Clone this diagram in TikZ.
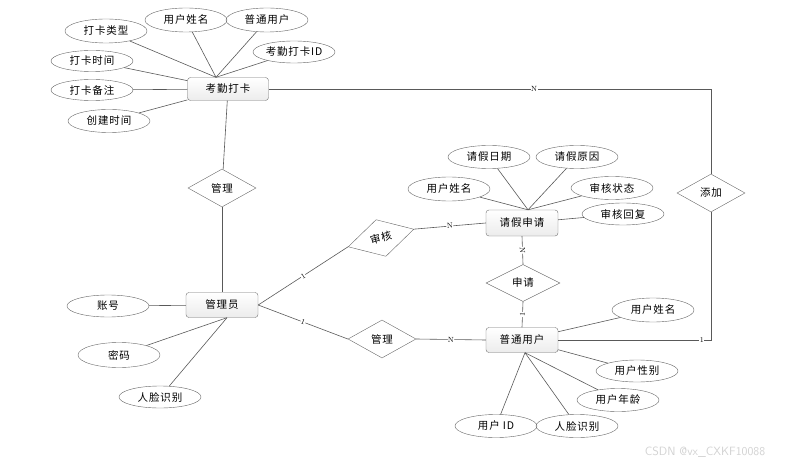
\documentclass[tikz,border=0pt]{standalone}
\usepackage{fontspec}
\newfontfamily\cjk[LetterSpace=8]{Noto Sans CJK SC}
\usetikzlibrary{shapes.geometric}

\begin{document}
\begin{tikzpicture}[x=1pt,y=-1pt,
  entity/.style={draw=gray!90!black,rounded corners=3pt,top color=white,bottom color=gray!15,
    minimum width=72pt,minimum height=25pt,inner sep=0pt,font=\cjk\fontsize{10.5}{12}\selectfont},
  attr/.style={draw=gray!80!black,ellipse,minimum width=82pt,minimum height=23pt,inner sep=0pt,
    font=\cjk\fontsize{10.5}{12}\selectfont},
  rel/.style={draw=gray!80!black,diamond,minimum width=68pt,minimum height=38pt,inner sep=0pt,
    font=\cjk\fontsize{10.5}{12}\selectfont},
  link/.style={draw=gray!70!black,line width=0.6pt},
  card/.style={fill=white,inner sep=0.5pt,sloped,font=\fontsize{7.5}{8}\selectfont}]
  \useasboundingbox (0,0) rectangle (789,465);
  % entities
  \node[entity,minimum width=81pt,minimum height=23pt] (kq) at (228,89) {考勤打卡};
  \node[entity] (gly) at (222,305) {管理员};
  \node[entity,minimum height=26pt] (qj) at (522,223) {请假申请};
  \node[entity] (pt) at (522,340) {普通用户};
  % relations
  \node[rel] (gl1) at (222,188) {管理};
  \node[rel] (tj) at (711,193) {添加};
  \node[rel,minimum width=74pt,minimum height=37pt] (sq) at (523,283) {申请};
  \node[rel] (gl2) at (382,339) {管理};
  \node[rel,rotate=15] (sh) at (381,238) {审核};
  % attributes of kq
  \node[attr,minimum height=24pt] (kq1) at (106,31) {打卡类型};
  \node[attr,minimum height=24pt] (kq2) at (186,20) {用户姓名};
  \node[attr,minimum height=24pt] (kq3) at (267,20) {普通用户};
  \node[attr,minimum height=22pt] (kq4) at (294,52) {考勤打卡ID};
  \node[attr,minimum height=21pt] (kq5) at (92,61) {打卡时间};
  \node[attr,minimum height=21pt] (kq6) at (92,90) {打卡备注};
  \node[attr] (kq7) at (109,121) {创建时间};
  % attributes of gly
  \node[attr,minimum height=22pt] (gly1) at (108,306) {账号};
  \node[attr,minimum height=25pt] (gly2) at (119,355) {密码};
  \node[attr,minimum height=22pt] (gly3) at (160,397) {人脸识别};
  % attributes of qj
  \node[attr] (qj1) at (489,157) {请假日期};
  \node[attr] (qj2) at (577,157) {请假原因};
  \node[attr,minimum height=24pt] (qj3) at (449,189) {用户姓名};
  \node[attr] (qj4) at (612,188) {审核状态};
  \node[attr,minimum height=22pt] (qj5) at (623,214) {审核回复};
  % attributes of pt
  \node[attr,minimum height=24pt] (pt1) at (653,310) {用户姓名};
  \node[attr,minimum height=22pt] (pt2) at (637,371) {用户性别};
  \node[attr] (pt3) at (618,400) {用户年龄};
  \node[attr] (pt4) at (496,426) {用户 ID};
  \node[attr] (pt5) at (577,426) {人脸识别};

  \coordinate (kqtop) at ([xshift=-12pt]kq.north);
  \coordinate (glybot) at ([xshift=5pt]gly.south);
  \coordinate (qjtop) at ([xshift=6pt]qj.north);
  \coordinate (ptbot) at ([xshift=3pt]pt.south);

  \foreach \a in {kq1,kq2,kq3,kq4} \draw[link] (\a) -- (kqtop);
  \foreach \a in {kq5,kq6,kq7} \draw[link] (\a) -- (kq);
  \draw[link] (gly1) -- (gly);
  \foreach \a in {gly2,gly3} \draw[link] (\a) -- (glybot);
  \foreach \a in {qj1,qj2,qj3,qj4} \draw[link] (\a) -- (qjtop);
  \draw[link] (qj5) -- (qj);
  \foreach \a in {pt1,pt2} \draw[link] (\a) -- (pt);
  \foreach \a in {pt3,pt4,pt5} \draw[link] (\a) -- (ptbot);

  % relationships
  \draw[link] (kq) -- (gl1);
  \draw[link] (gl1) -- (gly);
  \draw[link] (kq.east) -| node[card,pos=0.3]{N} (tj.north);
  \draw[link] (tj.south) |- node[card,pos=0.53]{1} (pt.east);
  \draw[link] (gly.east) -- node[card]{1} (sh.west);
  \draw[link] (sh.east) -- node[card]{N} (qj.west);
  \draw[link] (gly.east) -- node[card]{1} (gl2.west);
  \draw[link] (gl2.east) -- node[card]{N} (pt.west);
  \draw[link] (qj.south) -- node[card]{N} (sq.north);
  \draw[link] (sq.south) -- node[card]{1} (pt.north);

  \node[text=gray!35,font=\fontsize{12}{14}\selectfont\sffamily] (wm) at (705,452) {CSDN @vx\_CXKF10088};
\end{tikzpicture}
\end{document}
